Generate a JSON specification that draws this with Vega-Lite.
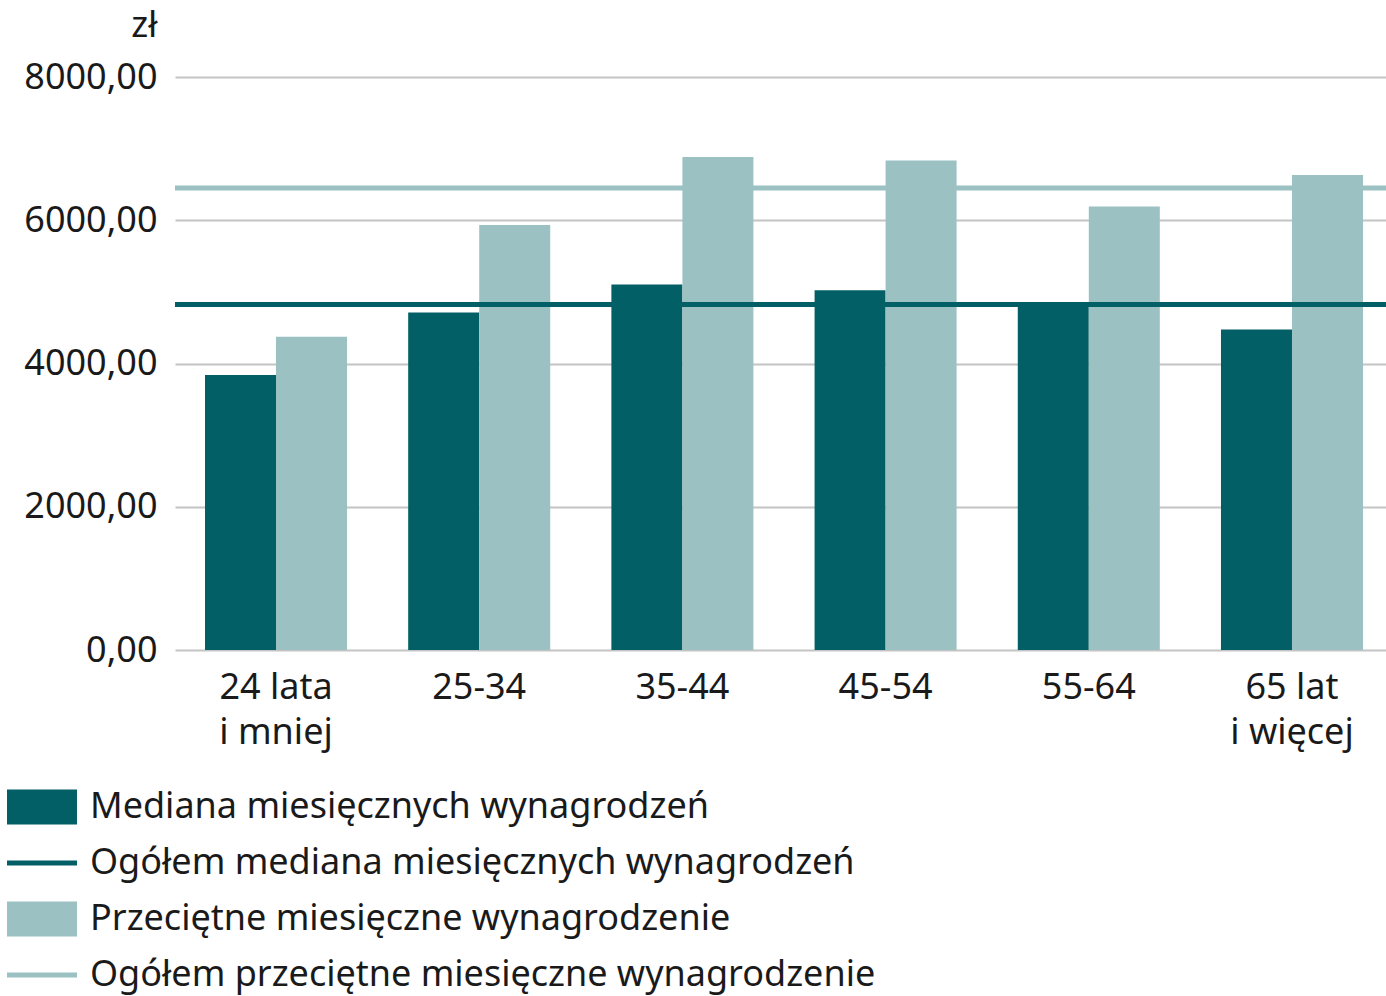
{
  "$schema": "https://vega.github.io/schema/vega-lite/v6.json",
  "autosize": {"type": "none"},
  "padding": {"left": 175, "top": 77, "right": 0, "bottom": 346},
  "width": 1211,
  "height": 573,
  "background": "white",
  "config": {
    "font": "Noto Sans",
    "view": {"stroke": null}
  },
  "datasets": {
    "bars": [
      {"age": "24 lata i mniej", "series": "Mediana miesięcznych wynagrodzeń", "value": 3841},
      {"age": "24 lata i mniej", "series": "Przeciętne miesięczne wynagrodzenie", "value": 4372},
      {"age": "25-34", "series": "Mediana miesięcznych wynagrodzeń", "value": 4712},
      {"age": "25-34", "series": "Przeciętne miesięczne wynagrodzenie", "value": 5934},
      {"age": "35-44", "series": "Mediana miesięcznych wynagrodzeń", "value": 5103},
      {"age": "35-44", "series": "Przeciętne miesięczne wynagrodzenie", "value": 6883},
      {"age": "45-54", "series": "Mediana miesięcznych wynagrodzeń", "value": 5023},
      {"age": "45-54", "series": "Przeciętne miesięczne wynagrodzenie", "value": 6833},
      {"age": "55-64", "series": "Mediana miesięcznych wynagrodzeń", "value": 4840},
      {"age": "55-64", "series": "Przeciętne miesięczne wynagrodzenie", "value": 6191},
      {"age": "65 lat i więcej", "series": "Mediana miesięcznych wynagrodzeń", "value": 4475},
      {"age": "65 lat i więcej", "series": "Przeciętne miesięczne wynagrodzenie", "value": 6632}
    ],
    "lines": [
      {"series": "Ogółem mediana miesięcznych wynagrodzeń", "value": 4824},
      {"series": "Ogółem przeciętne miesięczne wynagrodzenie", "value": 6451}
    ]
  },
  "layer": [
    {
      "data": {"name": "bars"},
      "mark": {"type": "bar"},
      "encoding": {
        "x": {
          "field": "age", "type": "nominal", "sort": null,
          "scale": {"paddingInner": 0.301, "paddingOuter": 0.1304, "align": 0.566},
          "axis": {
            "title": null, "domain": false, "ticks": false,
            "labelAngle": 0, "labelFontSize": 36, "labelColor": "#1a1a1a",
            "labelPadding": 20, "labelLineHeight": 45,
            "labelExpr": "split(replace(datum.value, ' i ', '|i '), '|')"
          }
        },
        "xOffset": {"field": "series", "type": "nominal", "sort": null},
        "y": {
          "field": "value", "type": "quantitative",
          "scale": {"domain": [0, 8000], "nice": false},
          "axis": {
            "values": [0, 2000, 4000, 6000, 8000],
            "domain": false, "ticks": false,
            "grid": true, "gridColor": "#c4c4c4", "gridWidth": 2,
            "labelFontSize": 36, "labelColor": "#1a1a1a", "labelPadding": 18,
            "labelExpr": "replace(format(datum.value, '.2f'), '.', ',')",
            "title": "zł", "titleAngle": 0, "titleFontSize": 36, "titleFontWeight": "normal",
            "titleColor": "#1a1a1a", "titleAlign": "right", "titleBaseline": "middle",
            "titleX": -18, "titleY": -52
          }
        },
        "color": {
          "field": "series", "type": "nominal",
          "scale": {
            "domain": [
              "Mediana miesięcznych wynagrodzeń",
              "Ogółem mediana miesięcznych wynagrodzeń",
              "Przeciętne miesięczne wynagrodzenie",
              "Ogółem przeciętne miesięczne wynagrodzenie"
            ],
            "range": ["#025f66", "#025f66", "#9cc1c3", "#9cc1c3"]
          },
          "legend": {
            "title": null, "orient": "none", "direction": "vertical",
            "legendX": -168, "legendY": 695,
            "labelFontSize": 36, "labelColor": "#1a1a1a", "labelOffset": 13,
            "labelLimit": 1000,
            "symbolSize": 4900, "symbolStrokeWidth": 0, "symbolOpacity": 1,
            "rowPadding": 3,
            "encode": {
              "symbols": {
                "update": {
                  "shape": {"signal": "indexof(datum.label, 'Ogółem') >= 0 ? 'M-1,-0.07H1V0.07H-1Z' : 'M-1,-0.5H1V0.5H-1Z'"},
                  "fill": {"signal": "indexof(datum.label, 'Przeciętne') >= 0 || indexof(datum.label, 'przeciętne') >= 0 ? '#9cc1c3' : '#025f66'"},
                  "opacity": {"value": 1}
                }
              }
            }
          }
        }
      }
    },
    {
      "data": {"name": "lines"},
      "mark": {"type": "rule", "strokeWidth": 5},
      "encoding": {
        "y": {"field": "value", "type": "quantitative"},
        "color": {"field": "series", "type": "nominal"}
      }
    }
  ]
}
